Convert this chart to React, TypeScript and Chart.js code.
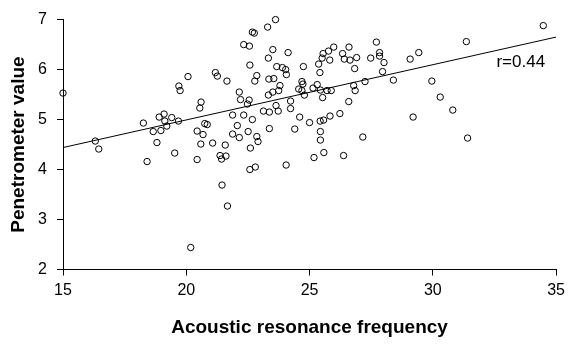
import React, { useEffect, useRef } from "react";
import { Chart, registerables } from "chart.js";

Chart.register(...registerables);

const FONT = "'Liberation Sans', Arial, Helvetica, sans-serif";

// Acoustic resonance frequency (x) for each sample
const frequency = [
  15.0, 16.31, 16.45, 18.26, 18.41, 18.66, 18.81, 18.9, 19.1, 19.13,
  18.97, 19.21, 19.41, 19.53, 19.68, 19.7, 19.75, 20.07, 20.6, 20.55,
  20.44, 20.68, 20.75, 20.85, 20.59, 21.07, 21.58, 20.44, 21.37, 21.43,
  21.61, 22.6, 22.58, 22.8, 24.05, 21.45, 21.67, 20.18, 21.18, 21.26,
  21.65, 22.15, 22.2, 22.55, 22.48, 21.88, 22.33, 22.68, 22.07, 21.88,
  22.15, 22.51, 22.86, 22.91, 22.33, 22.56, 22.58, 22.68, 22.76, 22.86,
  22.78, 23.62, 23.3, 23.51, 24.13, 23.33, 23.67, 23.9, 24.03, 24.06,
  24.75, 23.35, 23.55, 23.8, 23.33, 23.51, 23.75, 24.23, 24.23, 23.64,
  23.73, 23.13, 23.37, 23.37, 24.4, 24.6, 25.0, 25.43, 25.57, 25.83,
  26.23, 25.44, 25.44, 25.58, 25.18, 26.38, 27.16, 26.59, 26.85, 26.79,
  27.25, 25.53, 24.69, 24.73, 24.56, 24.69, 24.79, 25.14, 25.31, 25.44,
  25.71, 25.88, 25.42, 25.37, 25.51, 25.55, 25.77, 25.98, 25.82, 26.34,
  26.41, 26.64, 26.6, 26.91, 26.83, 27.48, 27.71, 27.84, 27.84, 28.02,
  27.96, 29.08, 29.43, 28.4, 29.96, 30.3, 30.81, 29.2, 31.41, 31.36,
  34.48,
];

// Penetrometer value (y) for each sample
const penetrometer = [
  5.53, 4.57, 4.41, 4.93, 4.16, 4.76, 4.54, 5.05, 5.11, 4.97,
  4.78, 4.87, 5.04, 4.33, 4.97, 5.67, 5.58, 5.86, 5.35, 5.23,
  4.77, 4.7, 4.92, 4.9, 4.51, 4.53, 4.49, 4.2, 4.28, 4.21,
  4.27, 4.43, 4.0, 4.05, 4.09, 3.69, 3.27, 2.44, 5.94, 5.87,
  5.77, 5.55, 5.4, 5.39, 5.31, 5.09, 5.09, 5.0, 4.88, 4.71,
  4.64, 4.76, 4.66, 4.56, 6.5, 6.47, 6.09, 6.75, 6.73, 5.88,
  5.77, 7.0, 6.85, 6.4, 6.34, 6.23, 6.06, 6.04, 6.0, 5.9,
  6.06, 5.81, 5.82, 5.68, 5.49, 5.55, 5.58, 5.37, 5.22, 5.28,
  5.17, 5.17, 5.15, 4.82, 4.81, 5.05, 4.94, 4.97, 4.99, 5.07,
  5.12, 4.76, 4.59, 4.34, 4.24, 4.28, 4.65, 5.36, 5.58, 5.68,
  5.76, 5.44, 5.76, 5.71, 5.61, 5.58, 5.49, 5.63, 5.7, 5.59,
  5.58, 5.58, 5.94, 6.11, 6.23, 6.32, 6.37, 6.45, 6.19, 6.32,
  6.21, 6.19, 6.45, 6.24, 6.02, 6.23, 6.55, 6.34, 6.27, 6.14,
  5.96, 6.21, 6.34, 5.79, 5.77, 5.45, 5.19, 5.05, 4.63, 6.56,
  6.88,
];

// Regression line end points
const trendX = [15, 35];
const trendY = [4.44, 6.65];

// Correlation label and its anchor (data coordinates)
const corrLabel = "r=0.44";
const corrAt = [32.58, 6.14];

const xTitle = "Acoustic resonance frequency";
const yTitle = "Penetrometer value";

const labelPlugin = {
  id: "corrLabel",
  afterDatasetsDraw(chart: any) {
    const { ctx, scales } = chart;
    const px = scales.x.getPixelForValue(corrAt[0]);
    const py = scales.y.getPixelForValue(corrAt[1]);
    ctx.save();
    ctx.font = `17px ${FONT}`;
    ctx.fillStyle = "#000";
    ctx.textAlign = "left";
    ctx.textBaseline = "middle";
    ctx.fillText(corrLabel, px, py);
    ctx.restore();
  },
};

export default function App() {
  const ref = useRef<HTMLCanvasElement | null>(null);

  useEffect(() => {
    document.body.style.margin = "0";
    const canvas = ref.current;
    if (!canvas) return;
    const points = frequency.map((x, i) => ({ x, y: penetrometer[i] }));
    const trend = trendX.map((x, i) => ({ x, y: trendY[i] }));
    const chart = new Chart(canvas, {
      type: "scatter",
      data: {
        datasets: [
          {
            type: "line",
            data: trend,
            borderColor: "#000",
            borderWidth: 1,
            pointRadius: 0,
            fill: false,
          } as any,
          {
            data: points,
            pointRadius: 3.2,
            pointBorderWidth: 1,
            borderColor: "#000",
            backgroundColor: "rgba(0,0,0,0)",
            clip: false,
          } as any,
        ],
      },
      options: {
        responsive: false,
        animation: false,
        layout: { padding: { top: 16.5, right: 10, left: 0, bottom: 0 } },
        plugins: {
          legend: { display: false },
          tooltip: { enabled: false },
        },
        scales: {
          x: {
            type: "linear",
            min: 15,
            max: 35,
            ticks: {
              stepSize: 5,
              color: "#000",
              font: { family: FONT, size: 16 },
              padding: 5,
              maxRotation: 0,
            },
            grid: {
              drawOnChartArea: false,
              drawTicks: true,
              tickLength: 6,
              color: "#000",
            },
            border: { display: true, color: "#000", width: 1 },
            title: {
              display: true,
              text: xTitle,
              color: "#000",
              font: { family: FONT, size: 19, weight: "bold" },
              padding: { top: 0, bottom: 5 },
            },
            afterFit: (s: any) => {
              s.height = 74.5;
            },
          },
          y: {
            type: "linear",
            min: 2,
            max: 7,
            ticks: {
              stepSize: 1,
              color: "#000",
              font: { family: FONT, size: 16 },
              padding: 10,
            },
            grid: {
              drawOnChartArea: false,
              drawTicks: true,
              tickLength: 6,
              color: "#000",
            },
            border: { display: true, color: "#000", width: 1 },
            title: {
              display: true,
              text: yTitle,
              color: "#000",
              font: { family: FONT, size: 19, weight: "bold" },
              padding: { top: 7.5, bottom: 0 },
            },
            afterFit: (s: any) => {
              s.width = 63;
            },
          },
        },
      },
      plugins: [labelPlugin],
    });
    return () => chart.destroy();
  }, []);

  return <canvas ref={ref} width={570} height={344} style={{ display: "block" }} />;
}
